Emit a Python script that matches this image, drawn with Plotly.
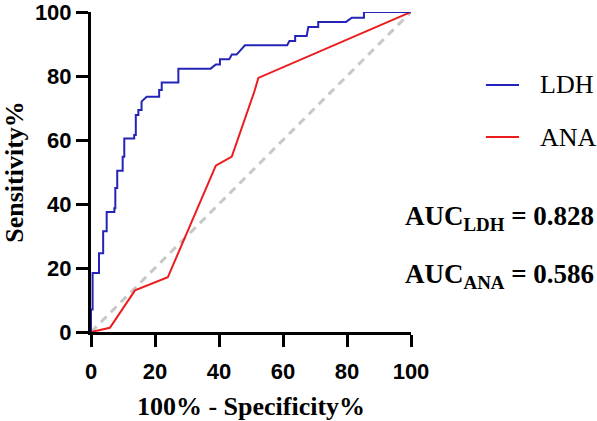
import plotly.graph_objects as go

# LDH ROC curve (100% - Specificity%, Sensitivity%)
ldh_x = [0, 0, 0.5, 0.5, 2.5, 2.5, 3.8, 3.8, 4.9, 4.9, 7.3, 7.3, 7.6, 7.6, 8.2, 8.2,
         9.9, 9.9, 10.4, 10.4, 13.5, 13.5, 14.0, 14.0, 14.8, 14.8, 15.8, 15.8, 17.4,
         21.3, 21.3, 22.1, 22.1, 27.3, 27.3, 37.4, 39.0, 40.3, 40.3, 43.2, 44.0, 45.5,
         48.1, 61.3, 62.0, 63.8, 63.8, 67.4, 67.9, 71.0, 71.0, 79.7, 81.5, 85.3, 85.3, 100]
ldh_y = [0, 7, 7, 18.4, 18.4, 24.6, 24.6, 31.5, 31.5, 37.5, 37.5, 38.7, 38.7, 45, 45, 50.4,
         50.4, 54.8, 54.8, 60.5, 60.5, 61.6, 61.6, 67.8, 67.8, 69.4, 69.4, 72.0, 73.5,
         73.5, 75.6, 75.6, 78.0, 78.0, 82.3, 82.3, 83.6, 83.6, 85.2, 85.2, 86.7, 86.7,
         89.6, 89.6, 90.9, 90.9, 92.5, 92.5, 95.3, 95.3, 96.9, 96.9, 98.2, 98.2, 100, 100]

# ANA ROC curve
ana_x = [0, 5.9, 13.75, 24.0, 39.0, 44.0, 51.0, 52.3, 100]
ana_y = [0, 1.3, 13.0, 17.1, 52.0, 54.8, 75.0, 79.4, 100]

# reference diagonal
ref_x = [0, 100]
ref_y = [0, 100]

tick_vals = [0, 20, 40, 60, 80, 100]
tick_text = ["0", "20", "40", "60", "80", "100"]

series_names = ["LDH", "ANA"]
series_colors = ["#2424B8", "#EC1C1C"]
auc_labels = ["LDH", "ANA"]
auc_values = ["0.828", "0.586"]

fig = go.Figure()
fig.add_trace(go.Scatter(x=ref_x, y=ref_y, mode="lines",
                         line=dict(color="#C8C8C8", width=3, dash="8px,6px"),
                         showlegend=False, hoverinfo="skip"))
fig.add_trace(go.Scatter(x=ana_x, y=ana_y, mode="lines", name=series_names[1],
                         line=dict(color=series_colors[1], width=2), showlegend=False))
fig.add_trace(go.Scatter(x=ldh_x, y=ldh_y, mode="lines", name=series_names[0],
                         line=dict(color=series_colors[0], width=2), showlegend=False))

axis_common = dict(
    range=[0, 100], tickvals=tick_vals, ticktext=tick_text,
    showline=True, linecolor="black", linewidth=3,
    ticks="outside", ticklen=12, tickwidth=3, tickcolor="black",
    showgrid=False, zeroline=False, ticklabeloverflow="allow", automargin=False,
    tickfont=dict(family="Liberation Sans", size=22, color="black", weight="bold"),
)

fig.update_layout(
    width=597, height=421,
    margin=dict(l=91, r=186, t=12, b=89),
    plot_bgcolor="white", paper_bgcolor="white",
    xaxis=dict(**axis_common, ticklabelstandoff=6,
               title=dict(text="<b>100% - Specificity%</b>", standoff=17,
                          font=dict(family="Liberation Serif", size=26, color="black"))),
    yaxis=dict(**axis_common,
               title=dict(text="<b>Sensitivity%</b>", standoff=16,
                          font=dict(family="Liberation Serif", size=26, color="black"))),
)

# legend drawn manually
leg_y = [0.772, 0.609]
for name, color, yy in zip(series_names, series_colors, leg_y):
    fig.add_shape(type="line", xref="paper", yref="paper", x0=1.234, x1=1.3375,
                  y0=yy, y1=yy, line=dict(color=color, width=2))
    fig.add_annotation(xref="paper", yref="paper", x=1.397, y=yy, text=name,
                       showarrow=False, xanchor="left", yanchor="middle",
                       font=dict(family="Liberation Serif", size=26, color="black"))

auc_y = [0.355, 0.175]
for lab, val, yy in zip(auc_labels, auc_values, auc_y):
    fig.add_annotation(xref="paper", yref="paper", x=0.975, y=yy,
                       text=f"<b>AUC<sub>{lab}</sub> = {val}</b>",
                       showarrow=False, xanchor="left", yanchor="middle",
                       font=dict(family="Liberation Serif", size=27, color="black"))

fig.write_html("out.html")
